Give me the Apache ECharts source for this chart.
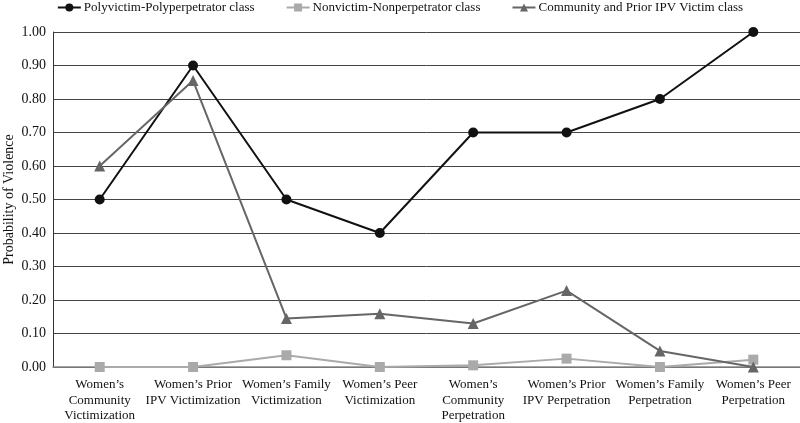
<!DOCTYPE html>
<html><head><meta charset="utf-8">
<script src="https://cdn.jsdelivr.net/npm/echarts@6/dist/echarts.min.js"></script>
<style>html,body{margin:0;padding:0;background:#fff}#c{width:800px;height:423px}</style>
</head><body><div id="c"></div>
<script>
const categories = ["Women\u2019s\nCommunity\nVictimization","Women\u2019s Prior\nIPV Victimization","Women\u2019s Family\nVictimization","Women\u2019s Peer\nVictimization","Women\u2019s\nCommunity\nPerpetration","Women\u2019s Prior\nIPV Perpetration","Women\u2019s Family\nPerpetration","Women\u2019s Peer\nPerpetration"];
const polyvictim = [0.50,0.90,0.50,0.40,0.70,0.70,0.80,1.00];
const nonvictim = [0.00,0.00,0.035,0.00,0.005,0.025,0.00,0.022];
const communityIPV = [0.60,0.855,0.145,0.159,0.13,0.228,0.048,0.00];
const seriesNames = ["Polyvictim-Polyperpetrator class","Nonvictim-Nonperpetrator class","Community and Prior IPV Victim class"];
const yAxisTitle = "Probability of Violence";
const font = "'Liberation Serif', 'Times New Roman', serif";
const chart = echarts.init(document.getElementById('c'), null, {renderer:'canvas'});
function mk(name, data, color, symbol, size){
  return {name, type:'line', data, symbol, symbolSize:size, color,
    lineStyle:{color, width:2}, itemStyle:{color}, animation:false};
}
chart.setOption({
  animation:false,
  textStyle:{fontFamily:font},
  legend:{top:0, left:'center', padding:[1,5,5,5], itemWidth:23, itemHeight:10, itemGap:31,
    textStyle:{fontFamily:font, fontSize:13, color:'#111', padding:[0,0,0,-2]},
    data:seriesNames},
  grid:{left:53, right:0, top:32, bottom:56, containLabel:false, outerBoundsMode:'none'},
  graphic:[{type:'text', x:9, y:199.5, rotation:Math.PI/2,
    style:{text:yAxisTitle, font:"14px " + font, fill:'#111', align:'center', verticalAlign:'middle'}}],
  xAxis:{type:'category', data:categories, boundaryGap:true,
    axisLine:{lineStyle:{color:'#888', width:1.5}}, axisTick:{show:false},
    axisLabel:{interval:0, fontFamily:font, fontSize:13, color:'#111', lineHeight:15.5, margin:10}},
  yAxis:{type:'value', min:0, max:1, interval:0.1,
    axisLine:{show:true, lineStyle:{color:'#333', width:1}}, axisTick:{show:false},
    axisLabel:{fontFamily:font, fontSize:14, color:'#111', margin:7, formatter:v=>v.toFixed(2)},
    splitLine:{lineStyle:{color:'#444', width:1}}},
  series:[
    mk(seriesNames[0], polyvictim, '#111111', 'circle', 10),
    mk(seriesNames[1], nonvictim, '#aaaaaa', 'rect', 10),
    mk(seriesNames[2], communityIPV, '#666666', 'triangle', 11)
  ]
});
</script></body></html>
